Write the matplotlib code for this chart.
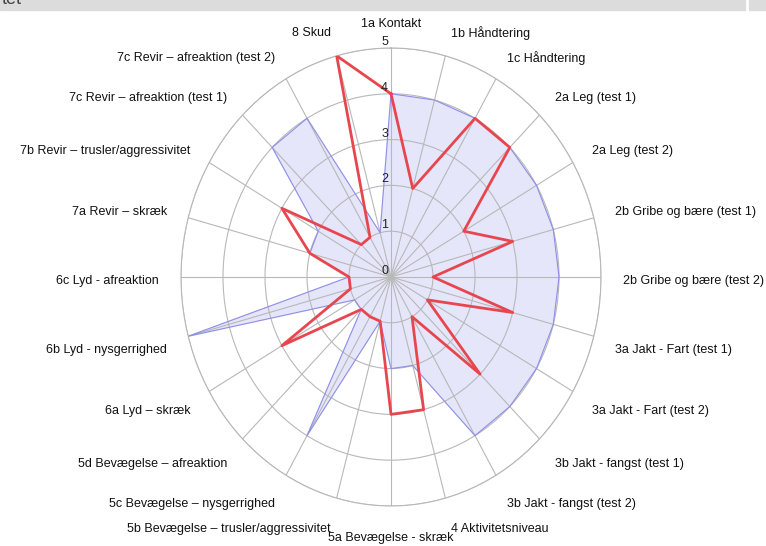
import numpy as np
import matplotlib
matplotlib.use('Agg')
import matplotlib.pyplot as plt
from matplotlib.patches import Rectangle

plt.rcParams['font.family'] = ['Liberation Sans', 'DejaVu Sans']

categories = ['1a Kontakt', '1b Håndtering', '1c Håndtering', '2a Leg (test 1)',
              '2a Leg (test 2)', '2b Gribe og bære (test 1)', '2b Gribe og bære (test 2)',
              '3a Jakt - Fart (test 1)', '3a Jakt - Fart (test 2)', '3b Jakt - fangst (test 1)',
              '3b Jakt - fangst (test 2)', '4 Aktivitetsniveau', '5a Bevægelse - skræk',
              '5b Bevægelse – trusler/aggressivitet', '5c Bevægelse – nysgerrighed',
              '5d Bevægelse – afreaktion', '6a Lyd – skræk', '6b Lyd - nysgerrighed',
              '6c Lyd - afreaktion', '7a Revir – skræk', '7b Revir – trusler/aggressivitet',
              '7c Revir – afreaktion (test 1)', '7c Revir – afreaktion (test 2)', '8 Skud']
blue_vals = [4, 4, 4, 4, 4, 4, 4, 4, 4, 4, 4, 2, 2, 1, 4, 1, 1, 5, 1, 2, 2, 4, 4, 1]
red_vals = [4, 2, 4, 4, 2, 3, 1, 3, 1, 3, 1, 3, 3, 1, 1, 1, 3, 1, 1, 2, 3, 1, 1, 5]
r_ticks = [0, 1, 2, 3, 4, 5]

n = len(categories)
theta = np.arange(n) * 2 * np.pi / n
th = np.append(theta, theta[0])
blue = np.append(blue_vals, blue_vals[0])
red = np.append(red_vals, red_vals[0])

fig = plt.figure(figsize=(7.66, 5.46), dpi=100)
ax = fig.add_axes([0.2363, 0.0733, 0.5483, 0.8388], projection='polar')
ax.set_aspect('auto')
ax.set_theta_offset(np.pi / 2)
ax.set_theta_direction(-1)
ax.set_ylim(0, 5)

ax.fill(th, blue, color='#e6e6fb', zorder=1)
ax.plot(th, blue, color='#8f8fe6', lw=0.8, zorder=2)
ax.plot(th, red, color='#e8464f', lw=2, zorder=3)

ax.set_xticks(theta)
ax.set_xticklabels([])
ax.set_yticks(r_ticks[1:])
ax.set_yticklabels([])
ax.grid(color='#b8b8b8', lw=0.8)
ax.spines['polar'].set_color('#b8b8b8')
ax.spines['polar'].set_linewidth(0.8)

for r in r_ticks:
    ax.annotate(str(r), (0, r), xytext=(-3, 0), textcoords='offset pixels',
                ha='right', va='bottom', fontsize=9, color='#222222')

for i, cat in enumerate(categories):
    deg = 15 * i
    if deg == 0 or deg == 180:
        ha = 'center'
    elif deg < 180:
        ha = 'left'
    else:
        ha = 'right'
    if 90 < deg < 270:
        dy = -8
    elif deg in (90, 270):
        dy = -4
    else:
        dy = 0
    ax.annotate(cat, (theta[i], 5.52), xytext=(0, dy), textcoords='offset pixels',
                ha=ha, va='center', fontsize=9, color='#111111', annotation_clip=False)

# cut-off strip at the top of the screenshot
fig.patches.append(Rectangle((0, 536 / 546), 745 / 766, 10 / 546, transform=fig.transFigure,
                             color='#dcdcdc', zorder=0))
fig.patches.append(Rectangle((749 / 766, 536 / 546), 17 / 766, 10 / 546, transform=fig.transFigure,
                             color='#dcdcdc', zorder=0))
fig.text(0.002, 1.0, 'tet', fontsize=13, color='#444444', ha='left', va='center')

fig.savefig('out.png', dpi=100)
